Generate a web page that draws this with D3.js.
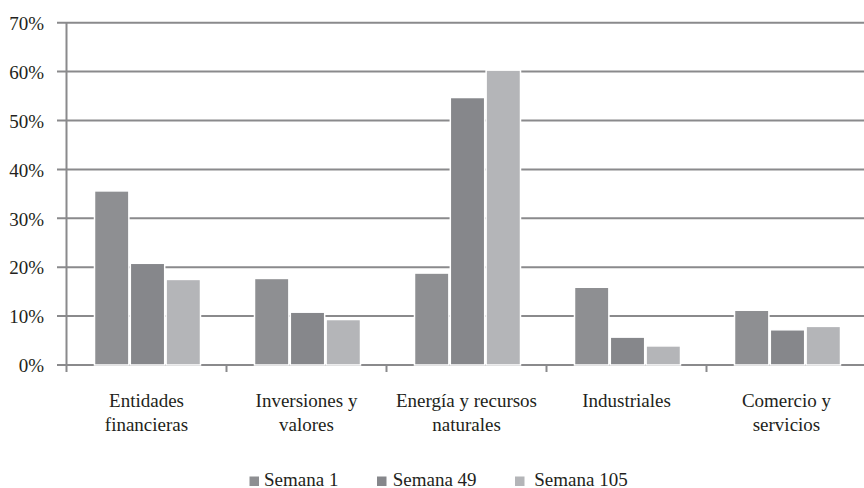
<!DOCTYPE html>
<html>
<head>
<meta charset="utf-8">
<script src="https://d3js.org/d3.v7.min.js"></script>
<style>
  body { margin: 0; background: #fff; }
  text {
    font-family: "Liberation Serif", "Times New Roman", serif;
    font-size: 19px;
    fill: #231f20;
  }
  .grid line { stroke: #8a8a8c; stroke-width: 2px; }
  .bar { stroke: #fff; stroke-width: 1.5px; }
</style>
</head>
<body>
<script>
// data
var categories = ["Entidades financieras", "Inversiones y valores", "Energía y recursos naturales", "Industriales", "Comercio y servicios"];
var categoryLines = [["Entidades", "financieras"], ["Inversiones y", "valores"], ["Energía y recursos", "naturales"], ["Industriales"], ["Comercio y", "servicios"]];
var seriesNames = ["Semana 1", "Semana 49", "Semana 105"];
var semana1 = [35.6, 17.7, 18.8, 15.9, 11.2];
var semana49 = [20.8, 10.8, 54.7, 5.7, 7.2];
var semana105 = [17.5, 9.3, 60.3, 3.9, 7.9];
var yTicks = [0, 10, 20, 30, 40, 50, 60, 70];
var colors = ["#8e8f92", "#86878b", "#b4b5b8"];

var series = [semana1, semana49, semana105];

var width = 864, height = 488;

var svg = d3.select("body").append("svg")
    .attr("width", width)
    .attr("height", height);

var x0 = d3.scaleBand()
    .domain(categories)
    .range([66.5, 866.5])
    .padding(0);

var x1 = d3.scaleBand()
    .domain(seriesNames)
    .range([28, 134])
    .paddingInner(0.04);

var y = d3.scaleLinear()
    .domain([0, 70])
    .range([365, 22.7]);

// gridlines
svg.append("g")
    .attr("class", "grid")
    .selectAll("line")
    .data(yTicks)
    .enter().append("line")
    .attr("x1", 57)
    .attr("x2", width)
    .attr("y1", function(d) { return y(d); })
    .attr("y2", function(d) { return y(d); });

// y labels
svg.append("g")
    .selectAll("text")
    .data(yTicks)
    .enter().append("text")
    .attr("x", 44)
    .attr("y", function(d) { return y(d); })
    .attr("dy", "0.38em")
    .attr("text-anchor", "end")
    .text(function(d) { return d + "%"; });

// y axis line
svg.append("line")
    .attr("x1", x0.range()[0]).attr("x2", x0.range()[0])
    .attr("y1", y(70)).attr("y2", y(0) + 7)
    .attr("stroke", "#8a8a8c")
    .attr("stroke-width", 2);

// category ticks
svg.append("g")
    .selectAll("line")
    .data(categories.slice(1))
    .enter().append("line")
    .attr("x1", function(d) { return x0(d); })
    .attr("x2", function(d) { return x0(d); })
    .attr("y1", y(0))
    .attr("y2", y(0) + 7)
    .attr("stroke", "#8a8a8c")
    .attr("stroke-width", 2);

// bars
var groups = svg.append("g")
    .selectAll("g")
    .data(categories)
    .enter().append("g")
    .attr("transform", function(d) { return "translate(" + x0(d) + ",0)"; });

groups.selectAll("rect")
    .data(function(d, i) {
      return seriesNames.map(function(s, j) { return {name: s, value: series[j][i], j: j}; });
    })
    .enter().append("rect")
    .attr("class", "bar")
    .attr("x", function(d) { return x1(d.name); })
    .attr("width", x1.bandwidth())
    .attr("y", function(d) { return y(d.value); })
    .attr("height", function(d) { return y(0) - y(d.value); })
    .attr("fill", function(d) { return colors[d.j]; });

// category labels
var labels = svg.append("g")
    .selectAll("text")
    .data(categories)
    .enter().append("text")
    .attr("x", function(d) { return x0(d) + x0.bandwidth() / 2; })
    .attr("y", 406.5)
    .attr("text-anchor", "middle");

labels.selectAll("tspan")
    .data(function(d, i) { return categoryLines[i]; })
    .enter().append("tspan")
    .attr("x", function() { return d3.select(this.parentNode).attr("x"); })
    .attr("dy", function(d, i) { return i === 0 ? 0 : 24.5; })
    .text(function(d) { return d; });

// legend (swatch x and text offset, as placed in the reference)
var legendX = [249.5, 377, 515];
var legendGap = [14.5, 15.7, 19.3];
var legend = svg.append("g")
    .selectAll("g")
    .data(seriesNames)
    .enter().append("g")
    .attr("transform", function(d, j) { return "translate(" + legendX[j] + ",0)"; });

legend.append("rect")
    .attr("x", 0).attr("y", 476.5)
    .attr("width", 9.5).attr("height", 9.5)
    .attr("fill", function(d, j) { return colors[j]; });

legend.append("text")
    .attr("x", function(d, j) { return legendGap[j]; })
    .attr("y", 485.5)
    .text(function(d) { return d; });
</script>
</body>
</html>
